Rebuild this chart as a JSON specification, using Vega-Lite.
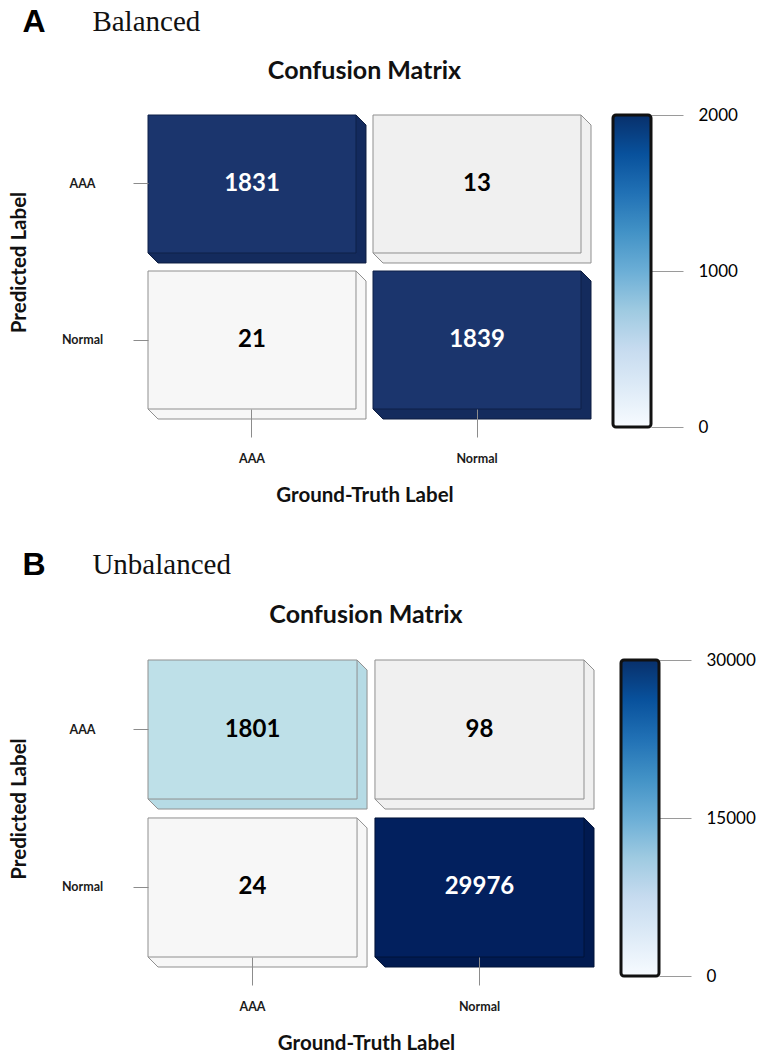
{
  "$schema": "https://vega.github.io/schema/vega-lite/v6.json",
  "padding": {"left": 9, "top": 5, "right": 5, "bottom": 5},
  "background": "white",
  "config": {"view": {"stroke": null}, "font": "Lato"},
  "spacing": 42,
  "resolve": {"scale": {"color": "independent", "fill": "independent"}},
  "vconcat": [
    {
      "title": {"text": "A", "anchor": "start", "frame": "bounds", "dx": 13, "dy": 31, "offset": 0, "font": "Liberation Sans", "fontSize": 32, "fontWeight": "bold", "color": "#000000"},
      "resolve": {"scale": {"color": "independent", "fill": "independent"}},
      "vconcat": [
        {
          "title": {"text": "Balanced", "anchor": "start", "frame": "bounds", "dx": 83, "offset": 22, "font": "Liberation Serif", "fontSize": 29, "fontWeight": "normal", "color": "#111111"},
          "spacing": 19,
          "resolve": {"scale": {"color": "independent", "fill": "independent"}},
          "hconcat": [
            {
              "width": 433,
              "height": 294,
              "data": {"values": [
                {"pred": "AAA", "truth": "AAA", "value": 1831},
                {"pred": "AAA", "truth": "Normal", "value": 13},
                {"pred": "Normal", "truth": "AAA", "value": 21},
                {"pred": "Normal", "truth": "Normal", "value": 1839}
              ]},
              "title": {"text": "Confusion Matrix", "frame": "group", "anchor": "middle", "offset": 31, "fontSize": 25, "font": "Lato", "fontWeight": "bold", "color": "#111111"},
              "encoding": {
                "x": {"field": "truth", "type": "nominal", "scale": {"paddingInner": 0.0756, "paddingOuter": 0},
                  "axis": {"orient": "bottom", "domain": false, "grid": false, "ticks": true, "tickSize": 28, "tickColor": "#8c8c8c", "labelAngle": 0, "labelFont": "Lato", "labelFontWeight": "bold", "labelFontSize": 12.5, "labelColor": "#1a1a1a", "labelPadding": 15, "title": "Ground-Truth Label", "titleFont": "Lato", "titleFontSize": 20.5, "titleFontWeight": "bold", "titleColor": "#111111", "titlePadding": 21, "zindex": 1}},
                "y": {"field": "pred", "type": "nominal", "scale": {"paddingInner": 0.1154, "paddingOuter": 0},
                  "axis": {"orient": "left", "domain": false, "grid": false, "ticks": true, "tickSize": 15, "tickColor": "#8c8c8c", "labelAlign": "center", "labelBaseline": "middle", "labelFont": "Lato", "labelFontWeight": "bold", "labelFontSize": 12.5, "labelColor": "#1a1a1a", "labelPadding": 51, "title": "Predicted Label", "titleFont": "Lato", "titleFontSize": 20.5, "titleFontWeight": "bold", "titleColor": "#111111", "titlePadding": 32, "zindex": 1}}
              },
              "layer": [
                {"mark": {"type": "rect", "xOffset": 10, "yOffset": 10, "x2Offset": 10, "y2Offset": 10}, "encoding": {"fill": {"field": "value", "type": "quantitative", "scale": {"type": "threshold", "domain": [17, 100], "range": ["#f0f0f0", "#f7f7f7", "#142b5d"]}, "legend": null}}},
                {"mark": {"type": "rect", "xOffset": 9, "yOffset": 9, "x2Offset": 9, "y2Offset": 9}, "encoding": {"fill": {"field": "value", "type": "quantitative", "scale": {"type": "threshold", "domain": [17, 100], "range": ["#f0f0f0", "#f7f7f7", "#142b5d"]}, "legend": null}}},
                {"mark": {"type": "rect", "xOffset": 8, "yOffset": 8, "x2Offset": 8, "y2Offset": 8}, "encoding": {"fill": {"field": "value", "type": "quantitative", "scale": {"type": "threshold", "domain": [17, 100], "range": ["#f0f0f0", "#f7f7f7", "#142b5d"]}, "legend": null}}},
                {"mark": {"type": "rect", "xOffset": 7, "yOffset": 7, "x2Offset": 7, "y2Offset": 7}, "encoding": {"fill": {"field": "value", "type": "quantitative", "scale": {"type": "threshold", "domain": [17, 100], "range": ["#f0f0f0", "#f7f7f7", "#142b5d"]}, "legend": null}}},
                {"mark": {"type": "rect", "xOffset": 6, "yOffset": 6, "x2Offset": 6, "y2Offset": 6}, "encoding": {"fill": {"field": "value", "type": "quantitative", "scale": {"type": "threshold", "domain": [17, 100], "range": ["#f0f0f0", "#f7f7f7", "#142b5d"]}, "legend": null}}},
                {"mark": {"type": "rect", "xOffset": 5, "yOffset": 5, "x2Offset": 5, "y2Offset": 5}, "encoding": {"fill": {"field": "value", "type": "quantitative", "scale": {"type": "threshold", "domain": [17, 100], "range": ["#f0f0f0", "#f7f7f7", "#142b5d"]}, "legend": null}}},
                {"mark": {"type": "rect", "xOffset": 4, "yOffset": 4, "x2Offset": 4, "y2Offset": 4}, "encoding": {"fill": {"field": "value", "type": "quantitative", "scale": {"type": "threshold", "domain": [17, 100], "range": ["#f0f0f0", "#f7f7f7", "#142b5d"]}, "legend": null}}},
                {"mark": {"type": "rect", "xOffset": 3, "yOffset": 3, "x2Offset": 3, "y2Offset": 3}, "encoding": {"fill": {"field": "value", "type": "quantitative", "scale": {"type": "threshold", "domain": [17, 100], "range": ["#f0f0f0", "#f7f7f7", "#142b5d"]}, "legend": null}}},
                {"mark": {"type": "rect", "xOffset": 2, "yOffset": 2, "x2Offset": 2, "y2Offset": 2}, "encoding": {"fill": {"field": "value", "type": "quantitative", "scale": {"type": "threshold", "domain": [17, 100], "range": ["#f0f0f0", "#f7f7f7", "#142b5d"]}, "legend": null}}},
                {"mark": {"type": "rect", "xOffset": 1, "yOffset": 1, "x2Offset": 1, "y2Offset": 1}, "encoding": {"fill": {"field": "value", "type": "quantitative", "scale": {"type": "threshold", "domain": [17, 100], "range": ["#f0f0f0", "#f7f7f7", "#142b5d"]}, "legend": null}}},
                {"mark": {"type": "rule", "x2Offset": 10, "y2Offset": 10, "strokeWidth": 1},
                  "encoding": {"x": {"field": "truth", "type": "nominal", "bandPosition": 1}, "x2": {"field": "truth", "bandPosition": 1}, "y": {"field": "pred", "type": "nominal", "bandPosition": 0}, "y2": {"field": "pred", "bandPosition": 0},
                    "color": {"condition": {"test": "datum.value > 1000", "value": "#0d1d40"}, "value": "#8f8f8f"}}},
                {"mark": {"type": "rule", "x2Offset": 10, "y2Offset": 10, "strokeWidth": 1},
                  "encoding": {"x": {"field": "truth", "type": "nominal", "bandPosition": 0}, "x2": {"field": "truth", "bandPosition": 0}, "y": {"field": "pred", "type": "nominal", "bandPosition": 1}, "y2": {"field": "pred", "bandPosition": 1},
                    "color": {"condition": {"test": "datum.value > 1000", "value": "#0d1d40"}, "value": "#8f8f8f"}}},
                {"mark": {"type": "rule", "xOffset": 10, "yOffset": 10, "y2Offset": 10, "strokeWidth": 1},
                  "encoding": {"x": {"field": "truth", "type": "nominal", "bandPosition": 1}, "y": {"field": "pred", "type": "nominal", "bandPosition": 0}, "y2": {"field": "pred", "bandPosition": 1},
                    "color": {"condition": {"test": "datum.value > 1000", "value": "#0d1d40"}, "value": "#8f8f8f"}}},
                {"mark": {"type": "rule", "xOffset": 10, "x2Offset": 10, "yOffset": 10, "strokeWidth": 1},
                  "encoding": {"x": {"field": "truth", "type": "nominal", "bandPosition": 0}, "x2": {"field": "truth", "bandPosition": 1}, "y": {"field": "pred", "type": "nominal", "bandPosition": 1},
                    "color": {"condition": {"test": "datum.value > 1000", "value": "#0d1d40"}, "value": "#8f8f8f"}}},
                {"mark": {"type": "rect", "strokeWidth": 1},
                  "encoding": {"color": {"field": "value", "type": "quantitative", "scale": {"type": "threshold", "domain": [17, 100], "range": ["#f0f0f0", "#f7f7f7", "#1b356d"]}, "legend": null},
                    "stroke": {"condition": {"test": "datum.value > 1000", "value": "#0f2148"}, "value": "#8f8f8f"}}},
                {"mark": {"type": "text", "font": "Lato", "fontWeight": "bold", "fontSize": 24},
                  "encoding": {"text": {"field": "value", "type": "quantitative", "format": "d"},
                    "color": {"condition": {"test": "datum.value > 1000", "value": "#ffffff"}, "value": "#000000"}}}
              ]
            },
            {
              "width": 38,
              "height": 312,
              "data": {"values": [{"lo": 0, "hi": 2000}]},
              "mark": {"type": "rect", "fill": {"gradient": "linear", "x1": 0, "y1": 1, "x2": 0, "y2": 0, "stops": [
                {"offset": 0, "color": "#f7fbff"}, {"offset": 0.125, "color": "#deebf7"}, {"offset": 0.25, "color": "#c6dbef"}, {"offset": 0.375, "color": "#9ecae1"}, {"offset": 0.5, "color": "#6baed6"}, {"offset": 0.625, "color": "#4292c6"}, {"offset": 0.75, "color": "#2171b5"}, {"offset": 0.875, "color": "#08519c"}, {"offset": 1, "color": "#08306b"}]},
                "stroke": "#111111", "strokeWidth": 3, "cornerRadius": 3},
              "encoding": {
                "y": {"field": "lo", "type": "quantitative", "scale": {"domain": [0, 2000], "nice": false, "zero": false},
                  "axis": {"orient": "right", "values": [0, 1000, 2000], "format": "d", "domain": false, "grid": false, "ticks": true, "tickSize": 32, "tickColor": "#9a9a9a", "labelPadding": 15, "labelFont": "Lato", "labelFontSize": 17, "labelColor": "#000000", "labelFlush": false, "labelAlign": "left", "labelBaseline": "middle", "title": null}},
                "y2": {"field": "hi"}
              }
            }
          ]
        }
      ]
    },
    {
      "title": {"text": "B", "anchor": "start", "frame": "bounds", "dx": 13, "dy": 31, "offset": 0, "font": "Liberation Sans", "fontSize": 32, "fontWeight": "bold", "color": "#000000"},
      "resolve": {"scale": {"color": "independent", "fill": "independent"}},
      "vconcat": [
        {
          "title": {"text": "Unbalanced", "anchor": "start", "frame": "bounds", "dx": 83, "offset": 23, "font": "Liberation Serif", "fontSize": 29, "fontWeight": "normal", "color": "#111111"},
          "spacing": 24,
          "resolve": {"scale": {"color": "independent", "fill": "independent"}},
          "hconcat": [
            {
              "width": 436,
              "height": 297,
              "data": {"values": [
                {"pred": "AAA", "truth": "AAA", "value": 1801},
                {"pred": "AAA", "truth": "Normal", "value": 98},
                {"pred": "Normal", "truth": "AAA", "value": 24},
                {"pred": "Normal", "truth": "Normal", "value": 29976}
              ]},
              "title": {"text": "Confusion Matrix", "frame": "group", "anchor": "middle", "offset": 32, "fontSize": 25, "font": "Lato", "fontWeight": "bold", "color": "#111111"},
              "encoding": {
                "x": {"field": "truth", "type": "nominal", "scale": {"paddingInner": 0.079, "paddingOuter": 0},
                  "axis": {"orient": "bottom", "domain": false, "grid": false, "ticks": true, "tickSize": 28, "tickColor": "#8c8c8c", "labelAngle": 0, "labelFont": "Lato", "labelFontWeight": "bold", "labelFontSize": 12.5, "labelColor": "#1a1a1a", "labelPadding": 15, "title": "Ground-Truth Label", "titleFont": "Lato", "titleFontSize": 20.5, "titleFontWeight": "bold", "titleColor": "#111111", "titlePadding": 21, "zindex": 1}},
                "y": {"field": "pred", "type": "nominal", "scale": {"paddingInner": 0.12, "paddingOuter": 0},
                  "axis": {"orient": "left", "domain": false, "grid": false, "ticks": true, "tickSize": 15, "tickColor": "#8c8c8c", "labelAlign": "center", "labelBaseline": "middle", "labelFont": "Lato", "labelFontWeight": "bold", "labelFontSize": 12.5, "labelColor": "#1a1a1a", "labelPadding": 51, "title": "Predicted Label", "titleFont": "Lato", "titleFontSize": 20.5, "titleFontWeight": "bold", "titleColor": "#111111", "titlePadding": 32, "zindex": 1}}
              },
              "layer": [
                {"mark": {"type": "rect", "xOffset": 10, "yOffset": 10, "x2Offset": 10, "y2Offset": 10}, "encoding": {"fill": {"field": "value", "type": "quantitative", "scale": {"type": "threshold", "domain": [50, 1000, 10000], "range": ["#f7f7f7", "#f0f0f0", "#b6dbe5", "#011a50"]}, "legend": null}}},
                {"mark": {"type": "rect", "xOffset": 9, "yOffset": 9, "x2Offset": 9, "y2Offset": 9}, "encoding": {"fill": {"field": "value", "type": "quantitative", "scale": {"type": "threshold", "domain": [50, 1000, 10000], "range": ["#f7f7f7", "#f0f0f0", "#b6dbe5", "#011a50"]}, "legend": null}}},
                {"mark": {"type": "rect", "xOffset": 8, "yOffset": 8, "x2Offset": 8, "y2Offset": 8}, "encoding": {"fill": {"field": "value", "type": "quantitative", "scale": {"type": "threshold", "domain": [50, 1000, 10000], "range": ["#f7f7f7", "#f0f0f0", "#b6dbe5", "#011a50"]}, "legend": null}}},
                {"mark": {"type": "rect", "xOffset": 7, "yOffset": 7, "x2Offset": 7, "y2Offset": 7}, "encoding": {"fill": {"field": "value", "type": "quantitative", "scale": {"type": "threshold", "domain": [50, 1000, 10000], "range": ["#f7f7f7", "#f0f0f0", "#b6dbe5", "#011a50"]}, "legend": null}}},
                {"mark": {"type": "rect", "xOffset": 6, "yOffset": 6, "x2Offset": 6, "y2Offset": 6}, "encoding": {"fill": {"field": "value", "type": "quantitative", "scale": {"type": "threshold", "domain": [50, 1000, 10000], "range": ["#f7f7f7", "#f0f0f0", "#b6dbe5", "#011a50"]}, "legend": null}}},
                {"mark": {"type": "rect", "xOffset": 5, "yOffset": 5, "x2Offset": 5, "y2Offset": 5}, "encoding": {"fill": {"field": "value", "type": "quantitative", "scale": {"type": "threshold", "domain": [50, 1000, 10000], "range": ["#f7f7f7", "#f0f0f0", "#b6dbe5", "#011a50"]}, "legend": null}}},
                {"mark": {"type": "rect", "xOffset": 4, "yOffset": 4, "x2Offset": 4, "y2Offset": 4}, "encoding": {"fill": {"field": "value", "type": "quantitative", "scale": {"type": "threshold", "domain": [50, 1000, 10000], "range": ["#f7f7f7", "#f0f0f0", "#b6dbe5", "#011a50"]}, "legend": null}}},
                {"mark": {"type": "rect", "xOffset": 3, "yOffset": 3, "x2Offset": 3, "y2Offset": 3}, "encoding": {"fill": {"field": "value", "type": "quantitative", "scale": {"type": "threshold", "domain": [50, 1000, 10000], "range": ["#f7f7f7", "#f0f0f0", "#b6dbe5", "#011a50"]}, "legend": null}}},
                {"mark": {"type": "rect", "xOffset": 2, "yOffset": 2, "x2Offset": 2, "y2Offset": 2}, "encoding": {"fill": {"field": "value", "type": "quantitative", "scale": {"type": "threshold", "domain": [50, 1000, 10000], "range": ["#f7f7f7", "#f0f0f0", "#b6dbe5", "#011a50"]}, "legend": null}}},
                {"mark": {"type": "rect", "xOffset": 1, "yOffset": 1, "x2Offset": 1, "y2Offset": 1}, "encoding": {"fill": {"field": "value", "type": "quantitative", "scale": {"type": "threshold", "domain": [50, 1000, 10000], "range": ["#f7f7f7", "#f0f0f0", "#b6dbe5", "#011a50"]}, "legend": null}}},
                {"mark": {"type": "rule", "x2Offset": 10, "y2Offset": 10, "strokeWidth": 1},
                  "encoding": {"x": {"field": "truth", "type": "nominal", "bandPosition": 1}, "x2": {"field": "truth", "bandPosition": 1}, "y": {"field": "pred", "type": "nominal", "bandPosition": 0}, "y2": {"field": "pred", "bandPosition": 0},
                    "color": {"condition": {"test": "datum.value > 10000", "value": "#011238"}, "value": "#8f8f8f"}}},
                {"mark": {"type": "rule", "x2Offset": 10, "y2Offset": 10, "strokeWidth": 1},
                  "encoding": {"x": {"field": "truth", "type": "nominal", "bandPosition": 0}, "x2": {"field": "truth", "bandPosition": 0}, "y": {"field": "pred", "type": "nominal", "bandPosition": 1}, "y2": {"field": "pred", "bandPosition": 1},
                    "color": {"condition": {"test": "datum.value > 10000", "value": "#011238"}, "value": "#8f8f8f"}}},
                {"mark": {"type": "rule", "xOffset": 10, "yOffset": 10, "y2Offset": 10, "strokeWidth": 1},
                  "encoding": {"x": {"field": "truth", "type": "nominal", "bandPosition": 1}, "y": {"field": "pred", "type": "nominal", "bandPosition": 0}, "y2": {"field": "pred", "bandPosition": 1},
                    "color": {"condition": {"test": "datum.value > 10000", "value": "#011238"}, "value": "#8f8f8f"}}},
                {"mark": {"type": "rule", "xOffset": 10, "x2Offset": 10, "yOffset": 10, "strokeWidth": 1},
                  "encoding": {"x": {"field": "truth", "type": "nominal", "bandPosition": 0}, "x2": {"field": "truth", "bandPosition": 1}, "y": {"field": "pred", "type": "nominal", "bandPosition": 1},
                    "color": {"condition": {"test": "datum.value > 10000", "value": "#011238"}, "value": "#8f8f8f"}}},
                {"mark": {"type": "rect", "strokeWidth": 1},
                  "encoding": {"color": {"field": "value", "type": "quantitative", "scale": {"type": "threshold", "domain": [50, 1000, 10000], "range": ["#f7f7f7", "#f0f0f0", "#bee0e8", "#02205e"]}, "legend": null},
                    "stroke": {"condition": {"test": "datum.value > 10000", "value": "#011238"}, "value": "#8f8f8f"}}},
                {"mark": {"type": "text", "font": "Lato", "fontWeight": "bold", "fontSize": 24},
                  "encoding": {"text": {"field": "value", "type": "quantitative", "format": "d"},
                    "color": {"condition": {"test": "datum.value > 10000", "value": "#ffffff"}, "value": "#000000"}}}
              ]
            },
            {
              "width": 38,
              "height": 316,
              "data": {"values": [{"lo": 0, "hi": 30000}]},
              "mark": {"type": "rect", "fill": {"gradient": "linear", "x1": 0, "y1": 1, "x2": 0, "y2": 0, "stops": [
                {"offset": 0, "color": "#f7fbff"}, {"offset": 0.125, "color": "#deebf7"}, {"offset": 0.25, "color": "#c6dbef"}, {"offset": 0.375, "color": "#9ecae1"}, {"offset": 0.5, "color": "#6baed6"}, {"offset": 0.625, "color": "#4292c6"}, {"offset": 0.75, "color": "#2171b5"}, {"offset": 0.875, "color": "#08519c"}, {"offset": 1, "color": "#08306b"}]},
                "stroke": "#111111", "strokeWidth": 3, "cornerRadius": 3},
              "encoding": {
                "y": {"field": "lo", "type": "quantitative", "scale": {"domain": [0, 30000], "nice": false, "zero": false},
                  "axis": {"orient": "right", "values": [0, 15000, 30000], "format": "d", "domain": false, "grid": false, "ticks": true, "tickSize": 32, "tickColor": "#9a9a9a", "labelPadding": 15, "labelFont": "Lato", "labelFontSize": 17, "labelColor": "#000000", "labelFlush": false, "labelAlign": "left", "labelBaseline": "middle", "title": null}},
                "y2": {"field": "hi"}
              }
            }
          ]
        }
      ]
    }
  ]
}
